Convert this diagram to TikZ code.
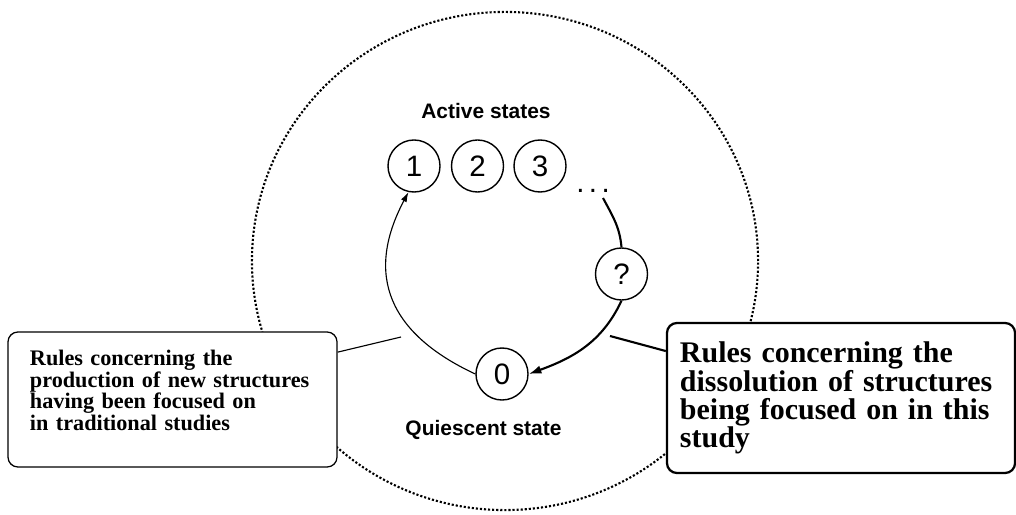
\documentclass[tikz,border=0pt]{standalone}
\usepackage{fontspec}
\setmainfont{Liberation Serif}
\setsansfont{Liberation Sans}
\usetikzlibrary{arrows.meta}

\tikzset{
    state/.style={draw, circle, line width=1pt, minimum size=1.3cm, inner sep=0pt,
        font=\sffamily\fontsize{21}{21}\selectfont},
    statename/.style={font=\sffamily\bfseries\fontsize{14.9}{16}\selectfont},
    rulebox/.style={draw, fill=white, rounded corners=0.25cm, align=left, inner ysep=2pt},
    thinarc/.style={line width=0.8pt, -{Latex[length=7pt,width=4.5pt]}},
    thickarc/.style={line width=1.5pt}
}

\begin{document}
\begin{tikzpicture}[x=0.025cm, y=0.025cm]
        \useasboundingbox (0,0) rectangle (1016,514);

        % Dotted border
        \draw[line width=1.5pt, dash pattern=on 1.5pt off 1.4pt] (505,253) ellipse [x radius=6.325cm, y radius=6.225cm];

        % States
        \node[statename] (activelabel) at (486,403) {Active states};
        \node[state] (one) at (414,348) {1};
        \node[state] (two) at (477.5,348) {2};
        \node[state] (three) at (540,348) {3};
        \node[anchor=base, font=\sffamily\fontsize{21}{21}\selectfont] (dots) at (593,321)
            {.\hspace{0.15em}.\hspace{0.15em}.};
        \node[state] (q) at (621.5,240) {?};
        \node[state] (zero) at (502,140) {0};
        \node[statename] (quiescentlabel) at (483.5,84) {Quiescent state};

        % Cycle
        \coordinate (arcstart) at (603,316);
        \draw[thinarc] (zero.west) to[out=155, in=-118, looseness=1.25] (one.258);
        \draw[thickarc] (arcstart) to[out=-62, in=95] (q.north);
        \draw[thickarc, -{Latex[length=9pt,width=6pt]}] (q.south) to[out=-115, in=20] (zero.east);

        % Rule boxes
        \node[rulebox, line width=0.9pt, minimum width=8.225cm, minimum height=3.375cm,
            text width=7.125cm, inner xsep=0.55cm,
            font=\bfseries\fontsize{15.8}{13.3}\selectfont] (leftbox) at (172.5,114.5)
            {Rules concerning the\\production of new structures\\having been focused on\\in traditional studies\\\mbox{}};
        \node[rulebox, line width=1.6pt, minimum width=8.7cm, minimum height=3.75cm,
            text width=8.05cm, inner xsep=0.325cm,
            font=\bfseries\fontsize{21.3}{20.1}\selectfont] (rightbox) at (841,116)
            {Rules concerning the\\dissolution of structures\\being focused on in this\\study};

        \coordinate (lefttip) at (401,177);
        \coordinate (righttip) at (610,178);
        \draw[line width=0.8pt] (leftbox.16) -- (lefttip);
        \draw[line width=1.5pt] (rightbox.165) -- (righttip);
    \end{tikzpicture}
\end{document}
